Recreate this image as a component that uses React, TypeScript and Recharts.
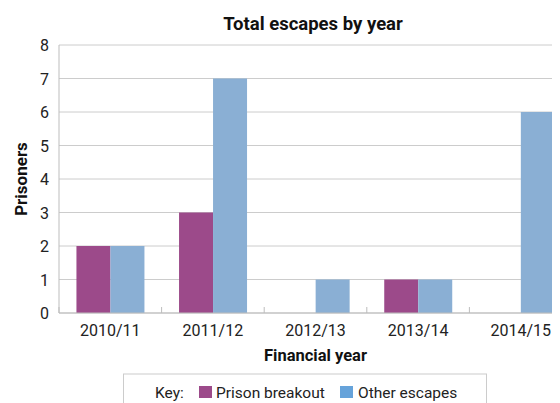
import React from 'react';
import { BarChart, Bar, XAxis, YAxis, CartesianGrid } from 'recharts';

const years = ['2010/11', '2011/12', '2012/13', '2013/14', '2014/15'];
const prisonBreakout = [2, 3, 0, 1, 0];
const otherEscapes = [2, 7, 1, 1, 6];
const yTicks = [0, 1, 2, 3, 4, 5, 6, 7, 8];

const series = [
  { key: 'breakout', name: 'Prison breakout', color: '#9C4A8A', legendColor: '#9C4A8A' },
  { key: 'other', name: 'Other escapes', color: '#8AAFD4', legendColor: '#66A3DA' },
];

const data = years.map((y, i) => ({ year: y, breakout: prisonBreakout[i], other: otherEscapes[i] }));

const FONT = 'Roboto, "DejaVu Sans", sans-serif';

const XTick = (props: any) => {
  const { x, y, payload } = props;
  const off = payload && typeof payload.offset === 'number' ? payload.offset : 0;
  return (
    <g>
      {off > 0 && (
        <line x1={x - off} x2={x - off} y1={y - 6} y2={y} stroke="#bdbdbd" strokeWidth={1} />
      )}
      <text x={x} y={y + 23} textAnchor="middle" fontSize={16} fontFamily={FONT} fill="#222">
        {payload.value}
      </text>
    </g>
  );
};

const YTick = (props: any) => {
  const { x, y, payload } = props;
  return (
    <text x={x} y={y + 6} textAnchor="end" fontSize={16} fontFamily={FONT} fill="#222">
      {payload.value}
    </text>
  );
};

export default function App() {
  return (
    <div style={{ position: 'relative', width: 552, height: 395, overflow: 'hidden' }}>
      <BarChart
        width={580}
        height={395}
        data={data}
        margin={{ top: 37, right: 16, bottom: 30, left: 0 }}
        barCategoryGap="17%"
        barGap={0}
      >
        <CartesianGrid vertical={false} stroke="#cccccc" />
        <XAxis
          dataKey="year"
          height={60}
          axisLine={{ stroke: '#bdbdbd' }}
          tickLine={false}
          tickSize={0}
          tickMargin={0}
          tick={<XTick />}
          interval={0}
          label={(p: any) => {
            const vb = p.viewBox || {};
            return (
              <text
                x={vb.x + vb.width / 2}
                y={vb.y + 48}
                textAnchor="middle"
                fontSize={16.5}
                fontWeight="bold"
                fontFamily={FONT}
                fill="#111"
              >
                Financial year
              </text>
            );
          }}
        />
        <YAxis
          width={51}
          domain={[0, 8]}
          ticks={yTicks}
          interval={0}
          axisLine={{ stroke: '#bdbdbd' }}
          tickLine={false}
          tickSize={0}
          tickMargin={10}
          tick={<YTick />}
          label={(p: any) => {
            const vb = p.viewBox || {};
            const cx = vb.x + 13;
            const cy = vb.y + vb.height / 2;
            return (
              <text
                x={cx}
                y={cy}
                transform={`rotate(-90, ${cx}, ${cy})`}
                textAnchor="middle"
                dominantBaseline="central"
                fontSize={17}
                fontWeight="bold"
                fontFamily={FONT}
                fill="#111"
              >
                Prisoners
              </text>
            );
          }}
        />
        {series.map((s) => (
          <Bar key={s.key} dataKey={s.key} name={s.name} fill={s.color} isAnimationActive={false} />
        ))}
      </BarChart>
      <svg
        width={552}
        height={395}
        style={{ position: 'absolute', left: 0, top: 0, pointerEvents: 'none' }}
      >
        <text x={305} y={22} textAnchor="middle" fontSize={18.5} fontWeight="bold" fontFamily={FONT} fill="#111">
          Total escapes by year
        </text>
        <rect x={115.5} y={366} width={363} height={40} fill="none" stroke="#cccccc" />
        <text x={147} y={390} fontSize={15.5} fontFamily={FONT} fill="#222">Key:</text>
        <rect x={191} y={378} width={13} height={12} fill={series[0].legendColor} />
        <text x={208} y={390} fontSize={15.5} fontFamily={FONT} fill="#222">{series[0].name}</text>
        <rect x={332} y={378} width={13} height={12} fill={series[1].legendColor} />
        <text x={350} y={390} fontSize={15.5} fontFamily={FONT} fill="#222">{series[1].name}</text>
      </svg>
    </div>
  );
}
